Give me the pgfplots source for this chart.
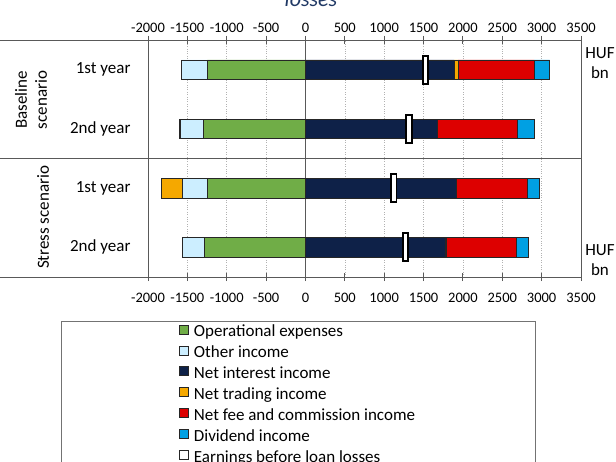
\documentclass[border=0pt]{standalone}
\usepackage{pgfplots}
\pgfplotsset{compat=1.18}
\usepackage{fontspec}
\setmainfont{Carlito}
\definecolor{opex}{HTML}{70AD47}
\definecolor{other}{HTML}{CCEEFF}
\definecolor{nii}{HTML}{0E2148}
\definecolor{trading}{HTML}{F5A800}
\definecolor{fee}{HTML}{DD0000}
\definecolor{divid}{HTML}{00A0E3}
\definecolor{axgray}{HTML}{595959}
\definecolor{titleblue}{HTML}{1F3864}
\pgfdeclareplotmark{ebll}{\pgfpathrectangle{\pgfqpoint{-2.8pt}{-14pt}}{\pgfqpoint{5.6pt}{28pt}}\pgfusepathqfillstroke}
\pgfplotsset{
  base/.style={scale only axis, width=433pt, height=237pt, at={(148pt,184pt)}, anchor=south west,
    xmin=-2000, xmax=3500, ymin=-0.5, ymax=3.5, bar width=19.5pt,
    /pgf/number format/assume math mode=true, /pgf/number format/1000 sep={},
    axis line style={axgray, line width=0.9pt},
    xtick={-2000,-1500,...,3500}, xtick pos=both, xtick align=center, major tick length=8pt,
    x tick style={axgray, line width=0.9pt},
    xticklabel style={font=\fontsize{14.5}{17}\selectfont},
  },
  barsty/.style={draw=black!85, line width=0.7pt},
}
\newcommand{\lbl}{\fontsize{17}{20}\selectfont}
\begin{document}
\begin{tikzpicture}[x=1pt,y=1pt]
\useasboundingbox (0,0) rectangle (616,461);
\clip (0,0) rectangle (616,461);
% negative stack, grid, y labels, bottom tick labels, legend
\begin{axis}[base, xbar stacked, xticklabel pos=lower,
  xticklabel style={yshift=-9pt},
  ytick={0,1,2,3}, yticklabels={2nd year,1st year,2nd year,1st year},
  y tick style={draw=none}, ytick pos=left,
  yticklabel style={font=\lbl, xshift=-14pt},
  xmajorgrids, major grid style={dotted, black!30, line width=0.6pt},
  legend cell align=left,
  legend image code/.code={\draw[line width=0.7pt, draw=black!85, #1] (0pt,-1.5pt) rectangle (9pt,7.5pt);},
  legend style={at={(0.0647,-0.1857)}, anchor=north west, draw=none, fill=none, font=\lbl,
    row sep=2.4pt, nodes={text height=12.5pt, text depth=4pt, inner ysep=1pt},
    /tikz/every odd column/.append style={column sep=3pt}},
]
\draw[axgray, line width=1.2pt] (axis cs:0,-0.5) -- (axis cs:0,3.5);
\draw[axgray, line width=0.9pt] (axis cs:-2000,1.5) -- (axis cs:3500,1.5);
\addplot[forget plot, barsty, fill=opex] coordinates {(-1280,0) (-1246,1) (-1301,2) (-1246,3)};
\addplot[forget plot, barsty, fill=other] coordinates {(-288,0) (-322,1) (-282,2) (-330,3)};
\addplot[forget plot, barsty, fill=trading] coordinates {(0,0) (-262,1) (-15,2) (0,3)};
\addlegendimage{fill=opex}\addlegendentry{Operational expenses}
\addlegendimage{fill=other}\addlegendentry{Other income}
\addlegendimage{fill=nii}\addlegendentry{Net interest income}
\addlegendimage{fill=trading}\addlegendentry{Net trading income}
\addlegendimage{fill=fee}\addlegendentry{Net fee and commission income}
\addlegendimage{fill=divid}\addlegendentry{Dividend income}
\addlegendimage{fill=white, draw=black, line width=1.8pt}\addlegendentry{Earnings before loan losses}
\end{axis}
% positive stack, top tick labels
\begin{axis}[base, xbar stacked, xticklabel pos=upper, ytick=\empty]
\addplot[barsty, fill=nii] coordinates {(1779,0) (1919,1) (1678,2) (1889,3)};
\addplot[barsty, fill=trading] coordinates {(17,0) (0,1) (0,2) (51,3)};
\addplot[barsty, fill=fee] coordinates {(886,0) (898,1) (1016,2) (966,3)};
\addplot[barsty, fill=divid] coordinates {(147,0) (152,1) (208,2) (195,3)};
\end{axis}
% earnings before loan losses
\begin{axis}[base, hide axis]
\addplot[only marks, mark=ebll, mark options={fill=white, draw=black, line width=1.8pt}]
  coordinates {(1271,0) (1122,1) (1317,2) (1525,3)};
\end{axis}
\draw[axgray, line width=0.9pt] (0,421) -- (148,421);
\draw[axgray, line width=0.9pt] (0,303) -- (148,303);
\draw[axgray, line width=0.9pt] (0,184) -- (148,184);
\node[rotate=90, align=center, font=\lbl, inner sep=0pt] at (31,361) {Baseline\\scenario};
\node[rotate=90, font=\lbl, inner sep=0pt] at (43,243.5) {Stress scenario};
\node[align=center, font=\lbl, inner sep=0pt] at (600,398) {HUF\\bn};
\node[align=center, font=\lbl, inner sep=0pt] at (600,201) {HUF\\bn};
\node[font=\fontsize{22}{26}\selectfont\itshape, text=titleblue, anchor=base, inner sep=0pt] at (311,454) {losses};
\draw[black!55, line width=0.9pt] (61.7,-20) rectangle (535,140);
\end{tikzpicture}
\end{document}
